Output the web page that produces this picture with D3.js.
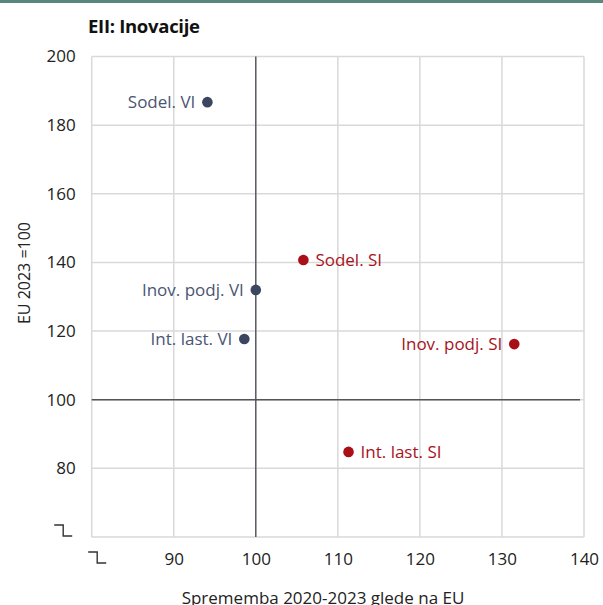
<!DOCTYPE html>
<html>
<head>
<meta charset="utf-8">
<script src="https://cdn.jsdelivr.net/npm/d3@7"></script>
<style>
  html, body { margin: 0; padding: 0; background: #fff; }
  svg { display: block; }
  text { font-family: "Open Sans", "Noto Sans", sans-serif; }
</style>
</head>
<body>
<svg id="chart" width="603" height="605"></svg>
<script>
const title = "EII: Inovacije";
const xTitle = "Sprememba 2020-2023 glede na EU";
const yTitle = "EU 2023 =100";
const labels = ["Sodel. VI", "Inov. podj. VI", "Int. last. VI", "Sodel. SI", "Inov. podj. SI", "Int. last. SI"];
const groups = ["VI", "VI", "VI", "SI", "SI", "SI"];
const xValues = [94.1, 100.0, 98.6, 105.8, 131.5, 111.3];
const yValues = [186.7, 132.0, 117.7, 140.7, 116.2, 84.8];
const labelSide = ["left", "left", "left", "right", "left", "right"];
const xTicks = [80, 90, 100, 110, 120, 130, 140];
const yTicks = [60, 80, 100, 120, 140, 160, 180, 200];

const colors = { VI: "#3b4761", SI: "#a80f17" };
const textColors = { VI: "#4a5573", SI: "#a8121c" };

const svg = d3.select("#chart");
const plot = { left: 91.7, right: 584, top: 56.5, bottom: 537 };

const x = d3.scaleLinear().domain([80, 140]).range([plot.left, plot.right]);
const y = d3.scaleLinear().domain([60, 200]).range([plot.bottom, plot.top]);

// top band
svg.append("rect").attr("x", 0).attr("y", 0).attr("width", 603).attr("height", 3).attr("fill", "#5a877d");

// title
svg.append("text").attr("x", 88).attr("y", 33).attr("font-size", 18.5).attr("font-weight", 700)
  .attr("fill", "#111").style("letter-spacing", "-0.3px").text(title);

// grid
const grid = svg.append("g");
grid.selectAll("line.v").data(xTicks).join("line")
  .attr("x1", d => x(d)).attr("x2", d => x(d))
  .attr("y1", plot.top).attr("y2", plot.bottom)
  .attr("stroke", "#d9d9d9").attr("stroke-width", 1.5);
grid.selectAll("line.h").data(yTicks).join("line")
  .attr("y1", d => y(d)).attr("y2", d => y(d))
  .attr("x1", plot.left).attr("x2", plot.right)
  .attr("stroke", "#d9d9d9").attr("stroke-width", 1.5);

// reference lines at 100
svg.append("line").attr("x1", x(100)).attr("x2", x(100)).attr("y1", plot.top).attr("y2", plot.bottom)
  .attr("stroke", "#3a3f4a").attr("stroke-width", 1.2);
svg.append("line").attr("x1", plot.left).attr("x2", plot.right - 4).attr("y1", y(100)).attr("y2", y(100))
  .attr("stroke", "#555").attr("stroke-width", 1.4);

// x axis ticks
const xAxis = d3.axisBottom(x).tickValues(xTicks).tickSize(0).tickPadding(0)
  .tickFormat(d => d === 80 ? "" : d);
const gx = svg.append("g").attr("transform", `translate(0,${plot.bottom})`).call(xAxis);
gx.select(".domain").remove();
gx.selectAll("text").attr("font-size", 17).attr("fill", "#222").attr("dy", 0).attr("y", 28)
  .style("font-family", "'Open Sans', sans-serif");

// y axis ticks
const yAxis = d3.axisLeft(y).tickValues(yTicks).tickSize(0).tickPadding(0)
  .tickFormat(d => d === 60 ? "" : d);
const gy = svg.append("g").attr("transform", `translate(${plot.left - 16},0)`).call(yAxis);
gy.select(".domain").remove();
gy.selectAll("text").attr("font-size", 17).attr("fill", "#222").attr("x", 0)
  .style("font-family", "'Open Sans', sans-serif");

// axis break glyphs
function breakGlyph(cx, cy) {
  svg.append("path")
    .attr("d", `M${cx - 9},${cy - 5.5} H${cx} V${cy + 5.5} H${cx + 9}`)
    .attr("fill", "none").attr("stroke", "#333").attr("stroke-width", 1.4);
}
breakGlyph(x(80) + 5.5, plot.bottom + 20.5);
breakGlyph(plot.left - 28.5, y(60) - 6.5);

// axis titles
svg.append("text").attr("x", 323).attr("y", 604)
  .attr("text-anchor", "middle").attr("font-size", 17).attr("fill", "#222").text(xTitle);
svg.append("text").attr("transform", `translate(30,273) rotate(-90)`)
  .attr("text-anchor", "middle").attr("font-size", 16).attr("fill", "#222").text(yTitle);

// points
const idx = d3.range(labels.length);
svg.append("g").selectAll("circle").data(idx).join("circle")
  .attr("cx", i => x(xValues[i])).attr("cy", i => y(yValues[i])).attr("r", 5.3)
  .attr("fill", i => colors[groups[i]]);

svg.append("g").selectAll("text").data(idx).join("text")
  .attr("x", i => x(xValues[i]) + (labelSide[i] === "left" ? -12 : 12))
  .attr("y", i => y(yValues[i]))
  .attr("dy", "0.35em")
  .attr("text-anchor", i => labelSide[i] === "left" ? "end" : "start")
  .attr("font-size", 17).attr("fill", i => textColors[groups[i]])
  .text(i => labels[i]);
</script>
</body>
</html>
